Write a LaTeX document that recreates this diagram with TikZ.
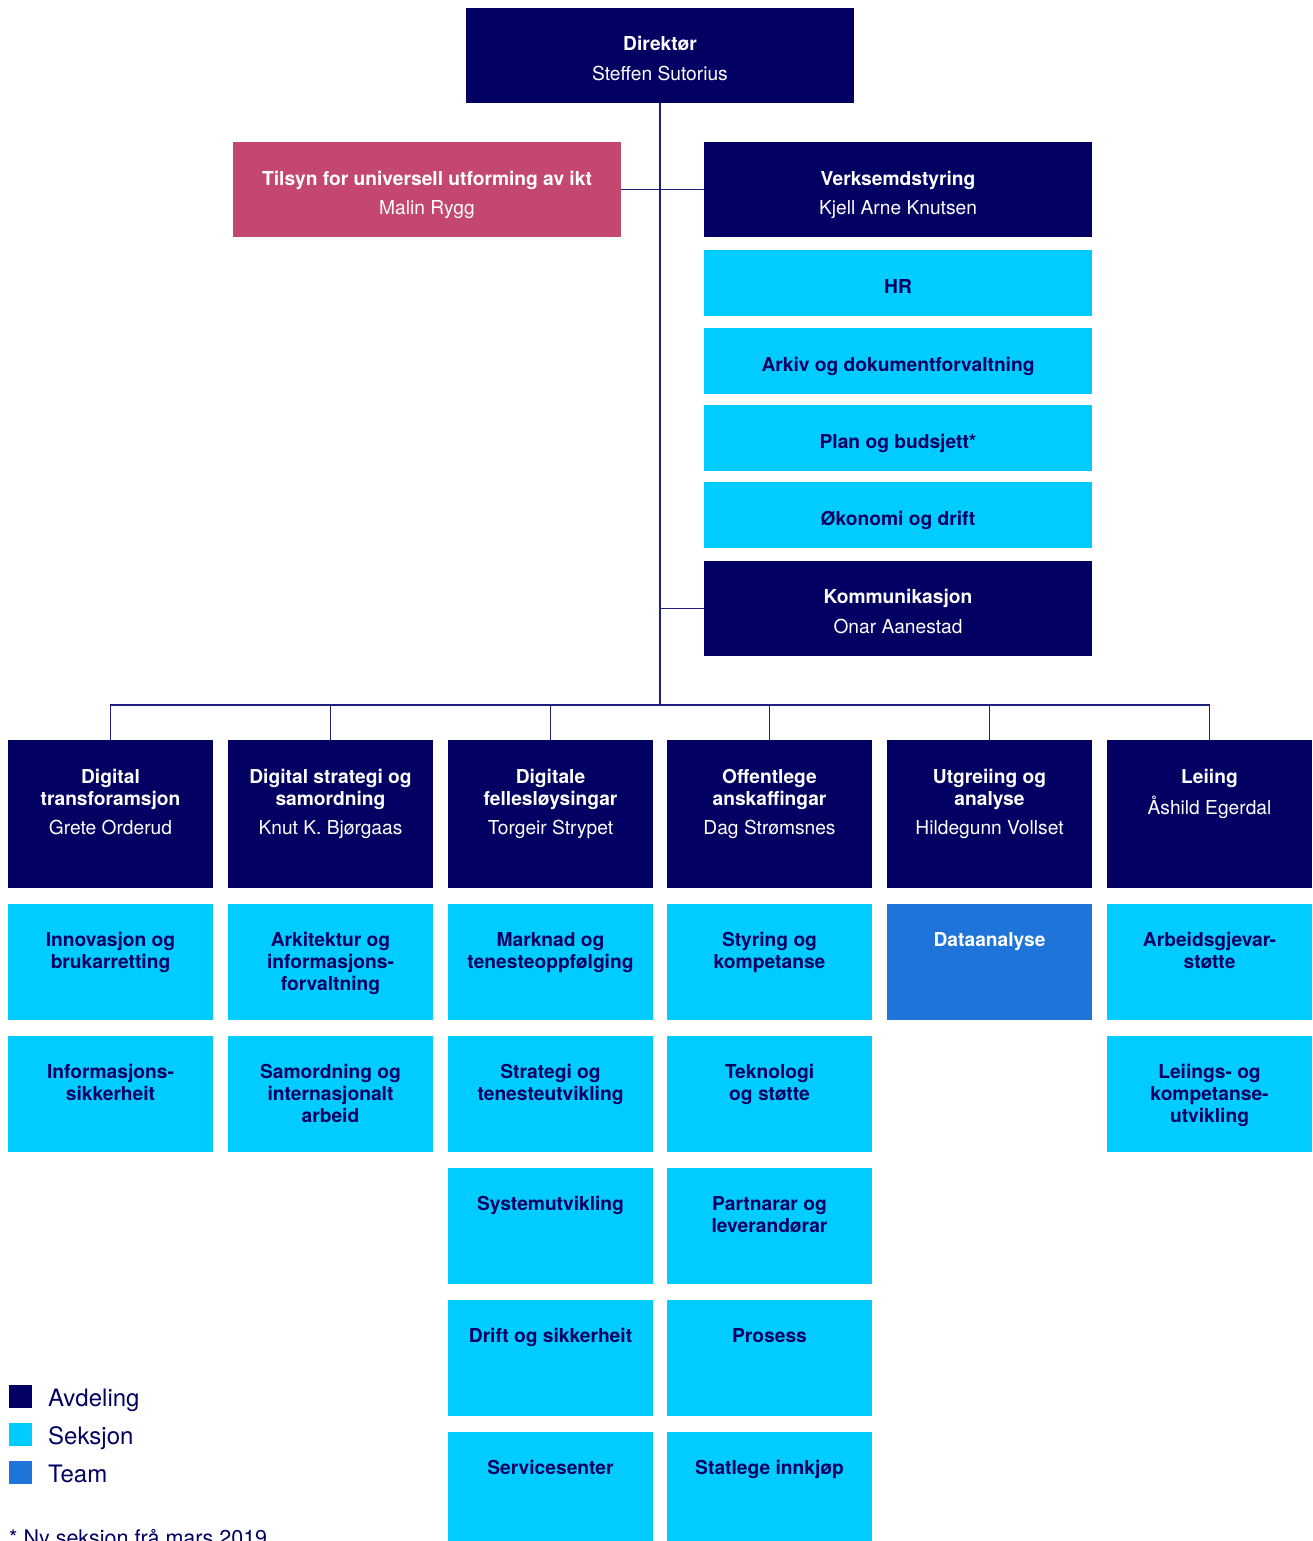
\documentclass[tikz,border=0pt]{standalone}
\usepackage{fontspec}
\setmainfont{TeX Gyre Heros}
\definecolor{navy}{HTML}{020063}
\definecolor{sky}{HTML}{00CCFF}
\definecolor{pink}{HTML}{C4476F}
\definecolor{team}{HTML}{1E74D8}
\definecolor{linec}{HTML}{1F1F80}
\begin{document}
\begin{tikzpicture}[x=1pt,y=-1pt,
  base/.style={inner sep=0pt, outer sep=0pt, align=center, font=\fontsize{19.2}{22}\selectfont},
  wide/.style={base, minimum width=388pt},
  dept/.style={base, fill=navy, minimum width=205pt, minimum height=148pt},
  sec/.style={base, fill=sky, minimum width=205pt, minimum height=116pt},
  teambox/.style={base, fill=team, minimum width=205pt, minimum height=116pt},
  wtxt/.style={base, anchor=north, text=white},
  ntxt/.style={base, anchor=north, text=navy},
  conn/.style={draw=linec, line width=1.5pt},
  legsq/.style={inner sep=0pt, outer sep=0pt, minimum size=23pt},
  legtxt/.style={inner sep=0pt, anchor=base west, text=navy, font=\fontsize{24}{28}\selectfont}
]
\useasboundingbox[fill=white] (0,0) rectangle (1312,1541);

% top
\node[wide, fill=navy, minimum height=95pt] (dir) at (660,55.5) {};
\node[wtxt, anchor=center, yshift=-3pt] (dirt) at (dir) {\textbf{Direktør}\\[8pt]Steffen Sutorius};
\node[wide, fill=pink, minimum height=95pt] (tilsyn) at (427,189.5) {};
\node[wtxt, anchor=center, yshift=-5pt] (tilsynt) at (tilsyn) {\textbf{Tilsyn for universell utforming av ikt}\\[7pt]Malin Rygg};
\node[wide, fill=navy, minimum height=95pt] (verk) at (898,189.5) {};
\node[wtxt, anchor=center, yshift=-5pt] (verkt) at (verk) {\textbf{Verksemdstyring}\\[7pt]Kjell Arne Knutsen};
\node[wide, fill=sky, minimum height=66pt] (hr) at (898,283) {};
\node[ntxt, anchor=center, yshift=-3pt] (hrt) at (hr) {\textbf{HR}};
\node[wide, fill=sky, minimum height=66pt] (arkiv) at (898,361) {};
\node[ntxt, anchor=center, yshift=-5pt] (arkivt) at (arkiv) {\textbf{Arkiv og dokumentforvaltning}};
\node[wide, fill=sky, minimum height=66pt] (plan) at (898,438) {};
\node[ntxt, anchor=center, yshift=-5pt] (plant) at (plan) {\textbf{Plan og budsjett*}};
\node[wide, fill=sky, minimum height=66pt] (oko) at (898,515) {};
\node[ntxt, anchor=center, yshift=-5pt] (okot) at (oko) {\textbf{Økonomi og drift}};
\node[wide, fill=navy, minimum height=95pt] (kom) at (898,608.5) {};
\node[wtxt, anchor=center, yshift=-3pt] (komt) at (kom) {\textbf{Kommunikasjon}\\[8pt]Onar Aanestad};

\coordinate (bus) at (660,705);

% departments
\node[dept] (d1) at (110.5,814) {};
\node[dept] (d2) at (330.5,814) {};
\node[dept] (d3) at (550.5,814) {};
\node[dept] (d4) at (769.5,814) {};
\node[dept] (d5) at (989.5,814) {};
\node[dept] (d6) at (1209.5,814) {};
\node[wtxt] (d1t) at ([yshift=-29pt]d1.north) {\textbf{Digital}\\\textbf{transforamsjon}\\[7pt]Grete Orderud};
\node[wtxt] (d2t) at ([yshift=-29pt]d2.north) {\textbf{Digital strategi og}\\\textbf{samordning}\\[7pt]Knut K. Bjørgaas};
\node[wtxt] (d3t) at ([yshift=-29pt]d3.north) {\textbf{Digitale}\\\textbf{fellesløysingar}\\[7pt]Torgeir Strypet};
\node[wtxt] (d4t) at ([yshift=-29pt]d4.north) {\textbf{Offentlege}\\\textbf{anskaffingar}\\[7pt]Dag Strømsnes};
\node[wtxt] (d5t) at ([yshift=-29pt]d5.north) {\textbf{Utgreiing og}\\\textbf{analyse}\\[7pt]Hildegunn Vollset};
\node[wtxt] (d6t) at ([yshift=-29pt]d6.north) {\textbf{Leiing}\\[8pt]Åshild Egerdal};

% sections column 1
\node[sec] (s11) at (110.5,962) {};
\node[ntxt] at ([yshift=-28pt]s11.north) {\textbf{Innovasjon og}\\\textbf{brukarretting}};
\node[sec] (s12) at (110.5,1094) {};
\node[ntxt] at ([yshift=-28pt]s12.north) {\textbf{Informasjons-}\\\textbf{sikkerheit}};
% column 2
\node[sec] (s21) at (330.5,962) {};
\node[ntxt] at ([yshift=-28pt]s21.north) {\textbf{Arkitektur og}\\\textbf{informasjons-}\\\textbf{forvaltning}};
\node[sec] (s22) at (330.5,1094) {};
\node[ntxt] at ([yshift=-28pt]s22.north) {\textbf{Samordning og}\\\textbf{internasjonalt}\\\textbf{arbeid}};
% column 3
\node[sec] (s31) at (550.5,962) {};
\node[ntxt] at ([yshift=-28pt]s31.north) {\textbf{Marknad og}\\\textbf{tenesteoppfølging}};
\node[sec] (s32) at (550.5,1094) {};
\node[ntxt] at ([yshift=-28pt]s32.north) {\textbf{Strategi og}\\\textbf{tenesteutvikling}};
\node[sec] (s33) at (550.5,1226) {};
\node[ntxt] at ([yshift=-28pt]s33.north) {\textbf{Systemutvikling}};
\node[sec] (s34) at (550.5,1358) {};
\node[ntxt] at ([yshift=-28pt]s34.north) {\textbf{Drift og sikkerheit}};
\node[sec] (s35) at (550.5,1490) {};
\node[ntxt] at ([yshift=-28pt]s35.north) {\textbf{Servicesenter}};
% column 4
\node[sec] (s41) at (769.5,962) {};
\node[ntxt] at ([yshift=-28pt]s41.north) {\textbf{Styring og}\\\textbf{kompetanse}};
\node[sec] (s42) at (769.5,1094) {};
\node[ntxt] at ([yshift=-28pt]s42.north) {\textbf{Teknologi}\\\textbf{og støtte}};
\node[sec] (s43) at (769.5,1226) {};
\node[ntxt] at ([yshift=-28pt]s43.north) {\textbf{Partnarar og}\\\textbf{leverandørar}};
\node[sec] (s44) at (769.5,1358) {};
\node[ntxt] at ([yshift=-28pt]s44.north) {\textbf{Prosess}};
\node[sec] (s45) at (769.5,1490) {};
\node[ntxt] at ([yshift=-28pt]s45.north) {\textbf{Statlege innkjøp}};
% column 5
\node[teambox] (s51) at (989.5,962) {};
\node[wtxt] at ([yshift=-28pt]s51.north) {\textbf{Dataanalyse}};
% column 6
\node[sec] (s61) at (1209.5,962) {};
\node[ntxt] at ([yshift=-28pt]s61.north) {\textbf{Arbeidsgjevar-}\\\textbf{støtte}};
\node[sec] (s62) at (1209.5,1094) {};
\node[ntxt] at ([yshift=-28pt]s62.north) {\textbf{Leiings- og}\\\textbf{kompetanse-}\\\textbf{utvikling}};

% connectors
\draw[conn] (dir.south) -- (bus);
\draw[conn] (tilsyn.east) -- (verk.west);
\draw[conn] (kom.west) -- (kom.west -| bus);
\draw[conn] (d1.north) -- (d1.north |- bus) -- (d6.north |- bus) -- (d6.north);
\foreach \n in {d2,d3,d4,d5} \draw[conn] (\n.north) -- (\n.north |- bus);

% legend
\node[legsq, fill=navy] (l1) at (20.5,1396.5) {};
\node[legsq, fill=sky] (l2) at (20.5,1434.5) {};
\node[legsq, fill=team] (l3) at (20.5,1472.5) {};
\node[legtxt] (l1t) at (48,1406) {Avdeling};
\node[legtxt] (l2t) at (48,1444) {Seksjon};
\node[legtxt] (l3t) at (48,1482) {Team};
\node[inner sep=0pt, anchor=base west, text=navy, font=\fontsize{21.5}{25}\selectfont] (note) at (9,1545) {* Ny seksjon frå mars 2019};
\end{tikzpicture}
\end{document}
